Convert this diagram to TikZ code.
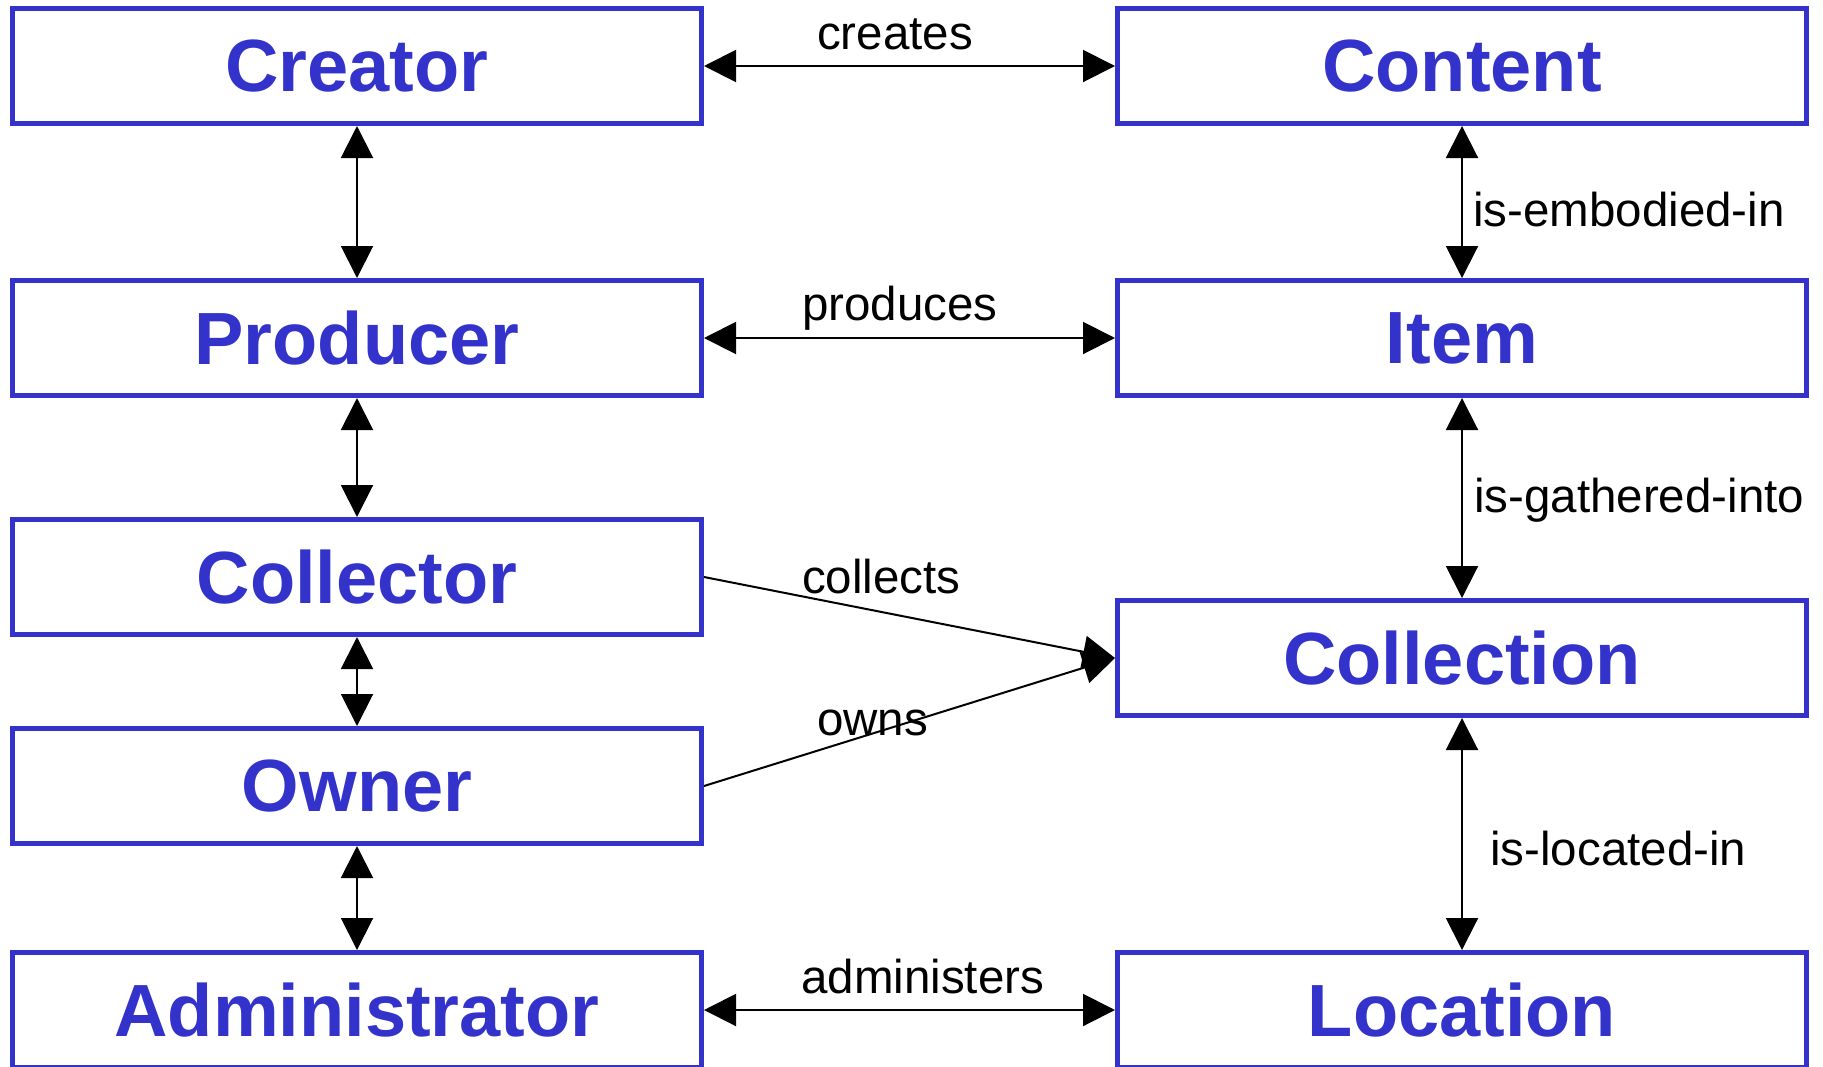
\documentclass[tikz,border=0pt]{standalone}
\usepackage{fontspec}
\setmainfont{Liberation Sans}
\usetikzlibrary{arrows.meta}
\definecolor{boxblue}{HTML}{3333CC}
\tikzset{
    entity/.style={draw=boxblue, line width=5pt, fill=white, text=boxblue,
      minimum width=689pt, minimum height=115pt, inner sep=0pt,
      font=\fontsize{74}{74}\selectfont\bfseries},
    relname/.style={anchor=base west, inner sep=0pt, font=\fontsize{47.5}{47.5}\selectfont},
    bothways/.style={line width=2pt, {Triangle[length=32pt,width=32pt]}-{Triangle[length=32pt,width=32pt]}},
    oneway/.style={line width=2pt, -{Triangle[length=32pt,width=32pt]}},
  }

\begin{document}
\begin{tikzpicture}[x=1pt,y=-1pt]
							\pgfmathsetmacro\lx{357}
							\pgfmathsetmacro\rx{1462}
							\useasboundingbox (0,0) rectangle (1823,1066);

							% agents
							\node[entity] (creator)   at (\lx,66)   {Creator};
							\node[entity] (producer)  at (\lx,338)  {Producer};
							\node[entity] (collector) at (\lx,577)  {Collector};
							\node[entity] (owner)     at (\lx,786)  {Owner};
							\node[entity] (admin)     at (\lx,1010) {Administrator};
							% things
							\node[entity] (content)    at (\rx,66)   {Content};
							\node[entity] (item)       at (\rx,338)  {Item};
							\node[entity] (collection) at (\rx,658)  {Collection};
							\node[entity] (location)   at (\rx,1010) {Location};

							\foreach \a/\b in {creator/producer,producer/collector,collector/owner,owner/admin,content/item,item/collection,collection/location}{
								\draw[bothways] (\a.south) -- (\b.north);
							}
							\draw[bothways] (creator.east) -- (content.west);
							\draw[bothways] (producer.east) -- (item.west);
							\draw[bothways] (admin.east) -- (location.west);
							\draw[oneway] (collector.east) -- (collection.west);
							\draw[oneway] (owner.east) -- (collection.west);

							\node[relname] (lcreates)  at (817,49)   {creates};
							\node[relname] (lproduces) at (802,320)  {produces};
							\node[relname] (lcollects) at (802,593)  {collects};
							\node[relname] (lowns)     at (817,735)  {owns};
							\node[relname] (ladmin)    at (801,993)  {administers};
							\node[relname] (lembodied) at (1473,226) {is-embodied-in};
							\node[relname] (lgathered) at (1474,512) {is-gathered-into};
							\node[relname] (llocated)  at (1490,865) {is-located-in};
						\end{tikzpicture}
\end{document}
